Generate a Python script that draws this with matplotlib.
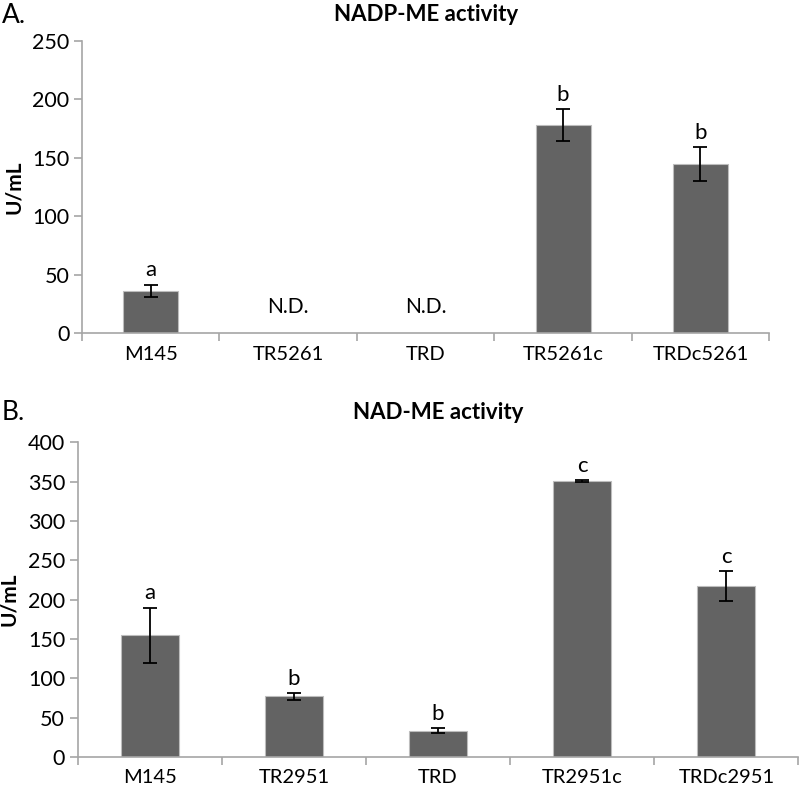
import matplotlib.pyplot as plt
import numpy as np

plt.rcParams['font.family'] = ['Lato', 'DejaVu Sans']

# Panel A: NADP-ME activity
strains_a = ['M145', 'TR5261', 'TRD', 'TR5261c', 'TRDc5261']
values_a = [36, 0, 0, 178, 145]
errors_a = [5.5, 0, 0, 14, 14.5]
letters_a = ['a', '', '', 'b', 'b']
nd_a = [False, True, True, False, False]

# Panel B: NAD-ME activity
strains_b = ['M145', 'TR2951', 'TRD', 'TR2951c', 'TRDc2951']
values_b = [155, 77, 33.5, 351, 217]
errors_b = [35, 4, 3, 1.5, 19]
letters_b = ['a', 'b', 'b', 'c', 'c']

BAR = '#636363'
SPINE = '#a6a6a6'


def draw_panel(ax, strains, values, errors, letters, ymax, ystep, title, title_y, nd=None):
    x = np.arange(len(strains))
    ax.bar(x, values, width=0.4, color=BAR, edgecolor='#bdbdbd', linewidth=0.8, zorder=2)
    for xi, v, e in zip(x, values, errors):
        if v > 0:
            ax.errorbar(xi, v, yerr=e, fmt='none', ecolor='black', elinewidth=1.3,
                        capsize=5, capthick=1.3, zorder=3)
    for xi, v, e, lab in zip(x, values, errors, letters):
        if lab:
            ax.annotate(lab, (xi, v + e), xytext=(0, 3), textcoords='offset points',
                        ha='center', va='bottom', fontsize=16)
    if nd is not None:
        for xi, flag in zip(x, nd):
            if flag:
                ax.text(xi, ymax * 0.09, 'N.D.', ha='center', va='center', fontsize=15)
    ax.set_xlim(-0.5, len(strains) - 0.5)
    ax.set_ylim(0, ymax)
    ax.set_yticks(np.arange(0, ymax + 1, ystep))
    ax.set_xticks(x)
    ax.set_xticklabels(strains)
    ax.set_xticks(np.arange(-0.5, len(strains), 1.0), minor=True)
    ax.tick_params(axis='x', which='major', length=0, pad=9, labelsize=14.5)
    ax.tick_params(axis='x', which='minor', length=6, color=SPINE, width=1.2)
    ax.tick_params(axis='y', length=6, color=SPINE, width=1.2, labelsize=15.5, pad=3)
    for s in ['top', 'right']:
        ax.spines[s].set_visible(False)
    for s in ['left', 'bottom']:
        ax.spines[s].set_color(SPINE)
        ax.spines[s].set_linewidth(1.2)
    ax.set_ylabel('U/mL', fontsize=15, fontweight='bold', labelpad=6)
    ax.set_title(title, fontsize=16, fontweight='bold', y=title_y, va='center', pad=0)


fig = plt.figure(figsize=(8, 7.94), dpi=100)
ax_a = fig.add_axes([0.1025, 0.5806, 0.859, 0.3678])
ax_b = fig.add_axes([0.097, 0.0466, 0.901, 0.3963])

draw_panel(ax_a, strains_a, values_a, errors_a, letters_a, 250, 50, 'NADP-ME activity', 1.092, nd_a)
draw_panel(ax_b, strains_b, values_b, errors_b, letters_b, 400, 50, 'NAD-ME activity', 1.095)

fig.text(0.002, 0.981, 'A.', fontsize=19, ha='left', va='center')
fig.text(0.002, 0.481, 'B.', fontsize=19, ha='left', va='center')

fig.savefig('out.png', dpi=100)
